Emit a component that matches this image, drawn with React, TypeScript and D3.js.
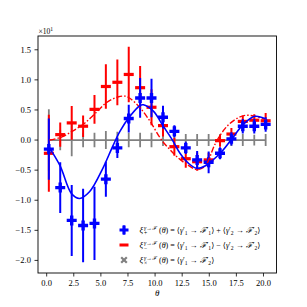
import React from "react";
import * as d3 from "d3";

// sampled angles (x of every marker)
const theta = [0.2, 1.25, 2.31, 3.36, 4.41, 5.46, 6.52, 7.57, 8.62, 9.67, 10.73, 11.78, 12.83, 13.88, 14.94, 15.99, 17.04, 18.09, 19.15, 20.2];

// xi_+ (blue plus)
const plusVal = [-0.15, -0.79, -1.335, -1.42, -1.385, -0.65, -0.13, 0.357, 0.7, 0.7, 0.38, 0.145, -0.13, -0.33, -0.37, -0.22, 0.02, 0.23, 0.23, 0.26];
const plusErr = [0.51, 0.42, 0.59, 0.61, 0.61, 0.29, 0.17, 0.23, 0.33, 0.32, 0.19, 0.1, 0.1, 0.15, 0.18, 0.1, 0.11, 0.12, 0.12, 0.12];

// xi_- (red minus)
const minusVal = [-0.22, 0.09, 0.285, 0.23, 0.51, 0.89, 0.96, 1.09, 0.87, 0.545, 0.24, -0.11, -0.31, -0.36, -0.33, -0.01, 0.1, 0.31, 0.33, 0.32];
const minusErr = [0.64, 0.2, 0.28, 0.18, 0.24, 0.37, 0.38, 0.46, 0.36, 0.3, 0.18, 0.15, 0.15, 0.15, 0.12, 0.1, 0.1, 0.1, 0.1, 0.13];

// xi_x (gray cross)
const crossVal = [0, 0, 0, 0, 0, 0, 0, 0, 0, 0, 0, 0, 0, 0, 0, 0, 0, 0, 0, 0];
const crossErr = [0.51, 0.17, 0.27, 0.12, 0.12, 0.15, 0.14, 0.12, 0.12, 0.12, 0.1, 0.1, 0.1, 0.1, 0.1, 0.1, 0.1, 0.1, 0.09, 0.1];

// fitted curves
const plusFitX = [0.26, 1.24, 2.29, 3.03, 3.95, 5.18, 6.1, 6.77, 7.7, 8.62, 8.92, 9.84, 10.76, 11.6, 12.3, 13.07, 13.84, 14.6, 16.0, 17.0, 18.14, 19.2, 20.2];
const plusFitY = [-0.13, -0.43, -0.89, -0.97, -0.86, -0.47, -0.1, 0.15, 0.4, 0.575, 0.586, 0.48, 0.23, 0.0, -0.22, -0.385, -0.47, -0.43, -0.22, 0.0, 0.26, 0.395, 0.35];
const minusFitX = [0.26, 1.3, 2.35, 3.43, 4.47, 5.5, 6.56, 7.2, 7.7, 8.62, 9.54, 10.6, 11.38, 12.15, 13.07, 13.84, 14.6, 14.9, 15.5, 16.45, 17.37, 18.3, 19.2, 20.2];
const minusFitY = [0.0, 0.045, 0.145, 0.27, 0.44, 0.62, 0.715, 0.73, 0.69, 0.535, 0.31, 0.0, -0.16, -0.3, -0.42, -0.49, -0.44, -0.35, -0.08, 0.19, 0.34, 0.41, 0.395, 0.34];

const xTicks = [0, 2.5, 5, 7.5, 10, 12.5, 15, 17.5, 20];
const yTicks = [-2, -1.5, -1, -0.5, 0, 0.5, 1, 1.5];

const BLUE = "#0000ff";
const RED = "#ff0000";
const GRAY = "#808080";
const FONT = "'Liberation Serif', 'DejaVu Serif', serif";

function plusPath(cx, cy, a = 5, t = 1.7) {
  return `M${cx - t},${cy - a}H${cx + t}V${cy - t}H${cx + a}V${cy + t}H${cx + t}V${cy + a}H${cx - t}V${cy + t}H${cx - a}V${cy - t}H${cx - t}Z`;
}

// small math line: parts with optional sub script / italic
function MathText({ x, y, parts, size = 8 }) {
  let shift = 0;
  return (
    <text x={x} y={y} fontSize={size} fontFamily={FONT}>
      {parts.map((p, i) => {
        const want = p.sub ? 2.2 : 0;
        const dy = want - shift;
        shift = want;
        return (
          <tspan key={i} dy={dy} fontSize={p.sub ? size * 0.7 : size} fontStyle={p.it ? "italic" : "normal"}>
            {p.t}
          </tspan>
        );
      })}
    </text>
  );
}

function Xi({ x, y, sub }) {
  return (
    <g fontFamily={FONT}>
      <text x={x} y={y} fontSize={8.5} fontStyle="italic">ξ</text>
      <text x={x + 4.6} y={y - 3.4} fontSize={5.6} fontStyle="italic">γ→ℱ</text>
      <text x={x + 4.6} y={y + 2.2} fontSize={5.6}>{sub}</text>
    </g>
  );
}

const prime = (greek, idx) => [
  { t: greek, it: true },
  { t: "′" },
  { t: idx, sub: true },
];

const row1 = [
  { t: "(" }, { t: "θ", it: true }, { t: ") = ⟨" }, ...prime("γ", "1"), { t: " → " }, ...prime("ℱ", "1"),
  { t: "⟩ + ⟨" }, ...prime("γ", "2"), { t: " → " }, ...prime("ℱ", "2"), { t: "⟩" },
];
const row2 = [
  { t: "(" }, { t: "θ", it: true }, { t: ") = ⟨" }, ...prime("γ", "1"), { t: " → " }, ...prime("ℱ", "1"),
  { t: "⟩ − ⟨" }, ...prime("γ", "2"), { t: " → " }, ...prime("ℱ", "2"), { t: "⟩" },
];
const row3 = [
  { t: "(" }, { t: "θ", it: true }, { t: ") = ⟨" }, ...prime("γ", "1"), { t: " → " }, ...prime("ℱ", "2"), { t: "⟩" },
];

export default function App() {
  const W = 307;
  const H = 307;
  const m = { left: 38, top: 36, right: 276.5, bottom: 273 };

  const [tMin, tMax] = d3.extent(theta);
  const xPad = (tMax - tMin) * 0.05;
  const x = d3.scaleLinear().domain([tMin - xPad, tMax + xPad]).range([m.left, m.right]);

  const all = [
    [plusVal, plusErr],
    [minusVal, minusErr],
    [crossVal, crossErr],
  ];
  const lo = d3.min(all.flatMap(([v, e]) => v.map((d, i) => d - e[i])));
  const hi = d3.max(all.flatMap(([v, e]) => v.map((d, i) => d + e[i])));
  const yPad = (hi - lo) * 0.05;
  const y = d3.scaleLinear().domain([lo - yPad, hi + yPad]).range([m.bottom, m.top]);

  const line = d3
    .line()
    .x((d) => x(d[0]))
    .y((d) => y(d[1]))
    .curve(d3.curveCatmullRom.alpha(0.5));
  const straight = d3
    .line()
    .x((d) => x(d[0]))
    .y((d) => y(d[1]));

  const plusFit = plusFitX.map((v, i) => [v, plusFitY[i]]);
  const minusFit = minusFitX.map((v, i) => [v, minusFitY[i]]);
  const crossPts = theta.map((t, i) => [t, crossVal[i]]);

  const fmt = d3.format(".1f");
  const fmtY = (v) => fmt(v).replace("-", "−");

  const legX = 124;
  const legT = 139.5;
  const legY = [230, 245, 260];

  return (
    <svg width={W} height={H} style={{ position: "absolute", left: 0, top: 0, background: "#fff" }} fontFamily={FONT}>
      <defs>
        <clipPath id="plotArea">
          <rect x={m.left} y={m.top} width={m.right - m.left} height={m.bottom - m.top} />
        </clipPath>
      </defs>

      <g clipPath="url(#plotArea)">
        {/* gray cross series */}
        <path d={straight(crossPts)} fill="none" stroke={GRAY} strokeWidth={1.8} />
        {theta.map((t, i) => (
          <line key={"ge" + i} x1={x(t)} x2={x(t)} y1={y(crossVal[i] - crossErr[i])} y2={y(crossVal[i] + crossErr[i])} stroke={GRAY} strokeWidth={1.8} />
        ))}

        {/* red minus series */}
        {theta.map((t, i) => (
          <g key={"r" + i}>
            <line x1={x(t)} x2={x(t)} y1={y(minusVal[i] - minusErr[i])} y2={y(minusVal[i] + minusErr[i])} stroke={RED} strokeWidth={2} />
            <rect x={x(t) - 5} y={y(minusVal[i]) - 1.6} width={10} height={3.2} fill={RED} />
          </g>
        ))}

        {/* blue plus series */}
        {theta.map((t, i) => (
          <g key={"b" + i}>
            <line x1={x(t)} x2={x(t)} y1={y(plusVal[i] - plusErr[i])} y2={y(plusVal[i] + plusErr[i])} stroke={BLUE} strokeWidth={2} />
            <path d={plusPath(x(t), y(plusVal[i]))} fill={BLUE} />
          </g>
        ))}

        <path d={line(minusFit)} fill="none" stroke={RED} strokeWidth={1.4} strokeDasharray="6,2,1.5,2" />
        <path d={line(plusFit)} fill="none" stroke={BLUE} strokeWidth={1.6} />
      </g>

      {/* frame */}
      <rect x={m.left} y={m.top} width={m.right - m.left} height={m.bottom - m.top} fill="none" stroke="#000" strokeWidth={0.9} />

      {/* x axis */}
      {xTicks.map((t) => (
        <g key={"xt" + t}>
          <line x1={x(t)} x2={x(t)} y1={m.bottom} y2={m.bottom + 3.5} stroke="#000" strokeWidth={0.8} />
          <text x={x(t)} y={m.bottom + 13} fontSize={8.5} textAnchor="middle">{fmt(t)}</text>
        </g>
      ))}
      <text x={(m.left + m.right) / 2} y={296} fontSize={9} fontStyle="italic" textAnchor="middle">θ</text>

      {/* y axis */}
      {yTicks.map((t) => (
        <g key={"yt" + t}>
          <line x1={m.left - 3.5} x2={m.left} y1={y(t)} y2={y(t)} stroke="#000" strokeWidth={0.8} />
          <text x={m.left - 7} y={y(t) + 3} fontSize={8.5} textAnchor="end">{fmtY(t)}</text>
        </g>
      ))}
      <text x={38.5} y={33.5} fontSize={7.5}>
        ×10<tspan dy={-3} fontSize={5.5}>1</tspan>
      </text>

      {/* legend */}
      <line x1={legX} x2={legX} y1={legY[0] - 4.5} y2={legY[0] + 4.5} stroke={BLUE} strokeWidth={2} />
      <path d={plusPath(legX, legY[0], 4.5, 1.6)} fill={BLUE} />
      <rect x={legX - 4.5} y={legY[1] - 1.5} width={9} height={3} fill={RED} />
      <path d={`M${legX - 2.8},${legY[2] - 2.8}L${legX + 2.8},${legY[2] + 2.8}M${legX + 2.8},${legY[2] - 2.8}L${legX - 2.8},${legY[2] + 2.8}`} stroke={GRAY} strokeWidth={2.2} />

      <Xi x={legT} y={legY[0] + 3} sub="+" />
      <MathText x={legT + 19.5} y={legY[0] + 3} parts={row1} />
      <Xi x={legT} y={legY[1] + 3} sub="−" />
      <MathText x={legT + 19.5} y={legY[1] + 3} parts={row2} />
      <Xi x={legT} y={legY[2] + 3} sub="×" />
      <MathText x={legT + 19.5} y={legY[2] + 3} parts={row3} />
    </svg>
  );
}
